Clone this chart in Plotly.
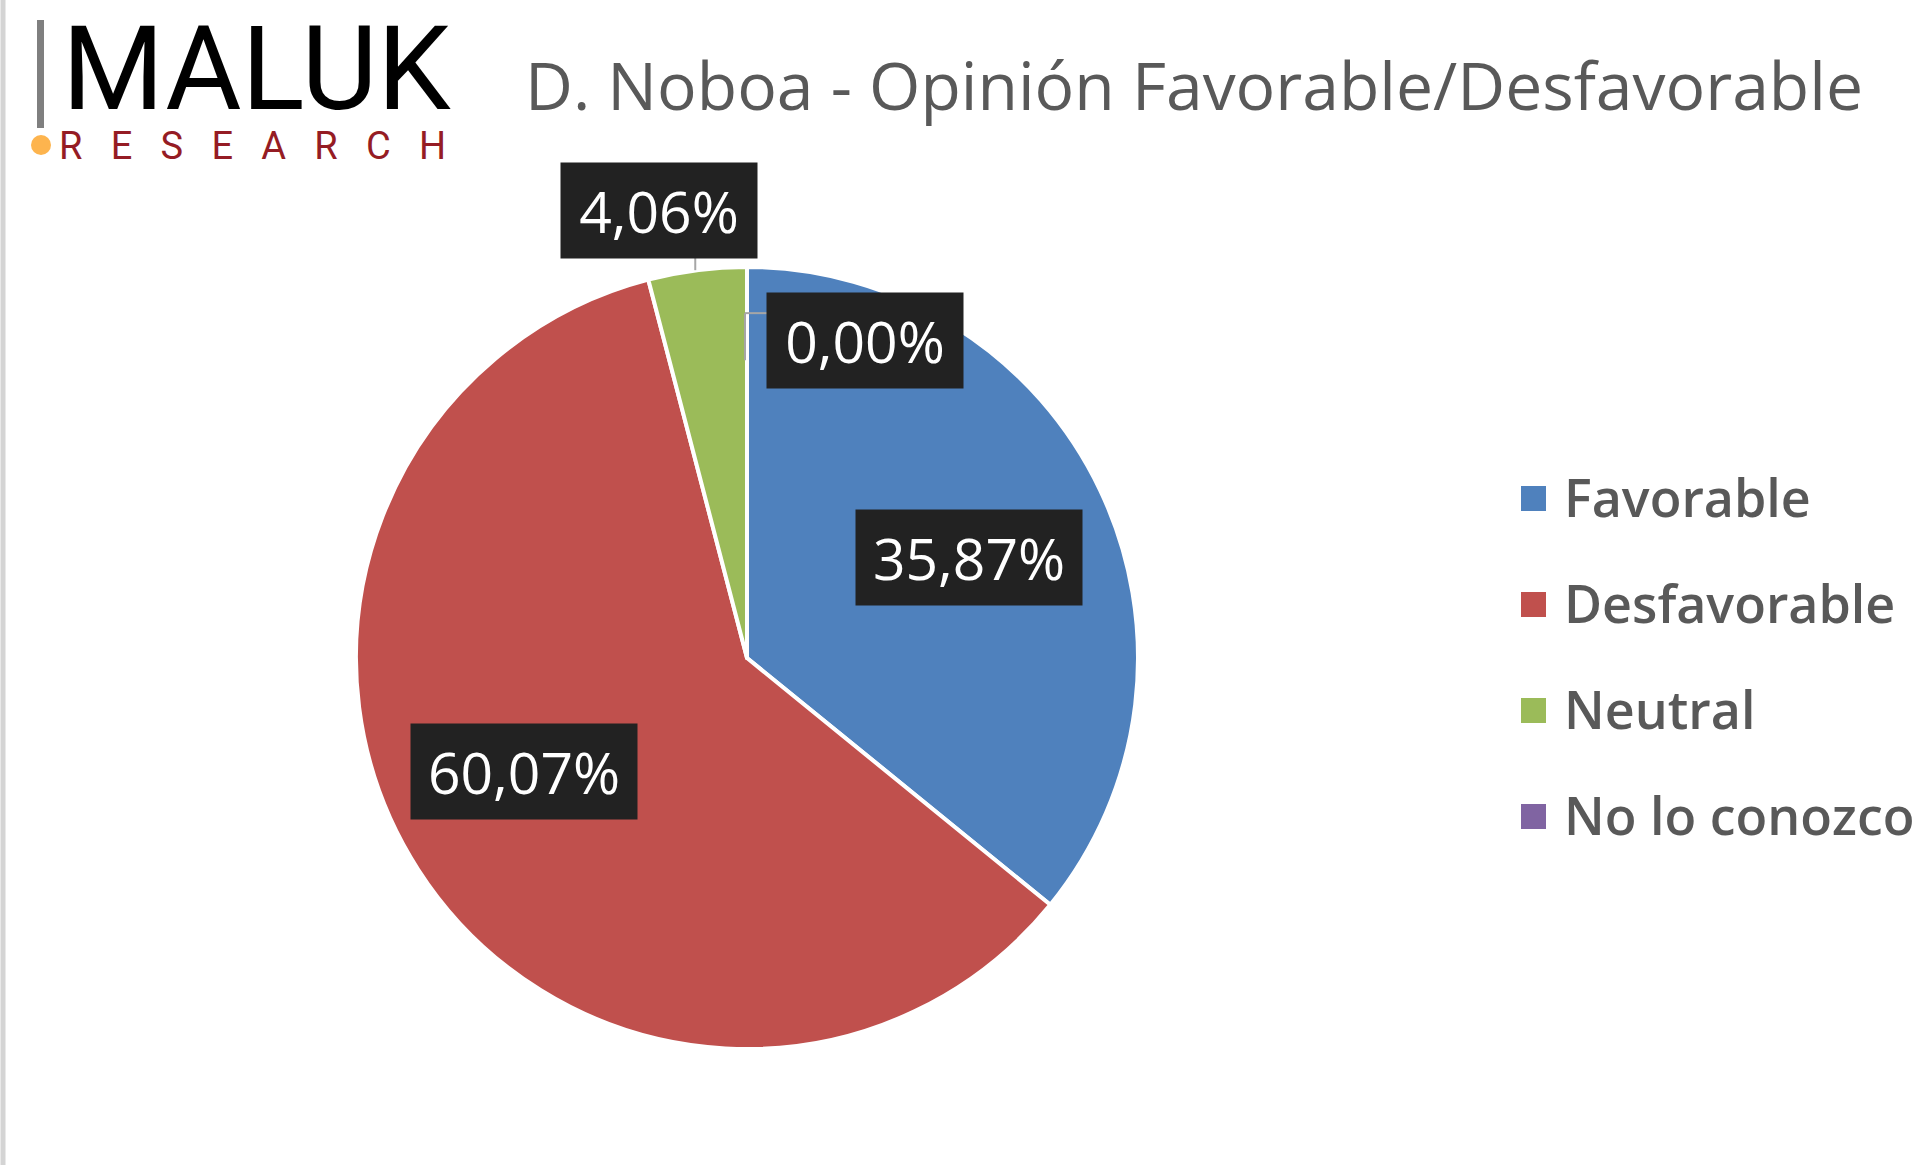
import math
import plotly.graph_objects as go

# data
categories = ["Favorable", "Desfavorable", "Neutral", "No lo conozco"]
values = [35.87, 60.07, 4.06, 0.00]
colors = ["#4F81BD", "#C0504D", "#9BBB59", "#8064A2"]
title = "D. Noboa - Opinión Favorable/Desfavorable"

W, H = 1929, 1165
# pie centre and radius in pixels
cx, cy, rad = 747, 658, 391


def px(x):
    return x / W


def py(y):
    return 1 - y / H


def fmt(v):
    return f"{v:.2f}".replace(".", ",") + "%"


def leader(x0, y0, x1, y1):
    fig.add_shape(type="line", xref="paper", yref="paper",
                  x0=px(x0), x1=px(x1), y0=py(y0), y1=py(y1),
                  line=dict(color="#A6A6A6", width=2))


fig = go.Figure()
fig.add_trace(
    go.Pie(
        labels=categories,
        values=values,
        sort=False,
        direction="clockwise",
        rotation=0,
        marker=dict(colors=colors, line=dict(color="white", width=4)),
        textinfo="none",
        hoverinfo="label+percent",
        showlegend=False,
        domain=dict(x=[px(cx - rad), px(cx + rad)], y=[py(cy + rad), py(cy - rad)]),
    )
)

# data labels: black boxes, small slices sit outside with a leader line
box_font = dict(family="Open Sans", size=57, color="white")
# radius fraction of the anchor point, then box offset in px
outside = {"Neutral": (1.0, -38, -60), "No lo conozco": (0.882, 118, 27)}
# excel nudges the inside labels a little off the mid angle
nudge = {"Favorable": (0, 5), "Desfavorable": (-16, -20)}
total = sum(values)
cum = 0
for name, v in zip(categories, values):
    txt = fmt(v)
    bw = 226 if len(txt) > 5 else 196
    bh = 95
    ang = math.radians((cum + v / 2) / total * 360)
    if name in outside:
        frac, ox, oy = outside[name]
        x = cx + frac * rad * math.sin(ang)
        y = cy - frac * rad * math.cos(ang)
        bx, by = x + ox, y + oy
        if v == 0:
            # elbow: across to the box, down along the slice edge
            leader(x - 2, y, bx - bw / 2, y)
            leader(x - 2, y, x - 2, y + 47)
        else:
            leader(x - 2, y, x - 2, by + bh / 2)
    else:
        dx, dy = nudge.get(name, (0, 0))
        bx = cx + 0.63 * rad * math.sin(ang) + dx
        by = cy - 0.63 * rad * math.cos(ang) + dy
    fig.add_annotation(
        x=px(bx), y=py(by), xref="paper", yref="paper",
        xanchor="center", yanchor="middle",
        text=txt, font=box_font, bgcolor="#222222", borderpad=0,
        width=bw, height=bh,
        showarrow=False,
    )
    cum += v

# title
fig.add_annotation(
    x=px(523), y=py(84), xref="paper", yref="paper", xanchor="left", yanchor="middle",
    text=title, showarrow=False,
    font=dict(family="Open Sans", size=66, color="#595959"),
)

# legend drawn by hand so the squares can be as big as in the original
for i, (name, c) in enumerate(zip(categories, colors)):
    yy = 498 + i * 106
    fig.add_shape(type="rect", xref="paper", yref="paper",
                  x0=px(1521), x1=px(1546), y0=py(yy - 12), y1=py(yy + 13),
                  fillcolor=c, line=dict(width=0))
    fig.add_annotation(
        x=px(1562), y=py(yy - 2), xref="paper", yref="paper", xanchor="left", yanchor="middle",
        text=name, showarrow=False,
        font=dict(family="Open Sans", size=52, color="#595959", weight=600),
    )

# logo
fig.add_shape(type="rect", xref="paper", yref="paper",
              x0=px(37), x1=px(44), y0=py(128), y1=py(20),
              fillcolor="#7F7F7F", line=dict(width=0))
fig.add_shape(type="circle", xref="paper", yref="paper",
              x0=px(31), x1=px(51), y0=py(155), y1=py(135),
              fillcolor="#FDB44E", line=dict(width=0))
fig.add_annotation(
    x=px(60), y=py(69), xref="paper", yref="paper", xanchor="left", yanchor="middle",
    text="MALUK", showarrow=False,
    font=dict(family="Roboto", size=117, color="black"),
)
fig.add_annotation(
    x=px(252), y=py(146), xref="paper", yref="paper", xanchor="center", yanchor="middle",
    text="\u00a0\u00a0\u00a0".join("RESEARCH"), showarrow=False,
    font=dict(family="Roboto", size=38, color="#951C24"),
)

# grey sheet border on the left
fig.add_shape(type="line", xref="paper", yref="paper",
              x0=px(3), x1=px(3), y0=0, y1=1,
              line=dict(color="#D4D4D4", width=5))

fig.update_layout(
    width=W,
    height=H,
    margin=dict(l=0, r=0, t=0, b=0),
    paper_bgcolor="white",
    plot_bgcolor="white",
)

# drop the browser's default body margin so the figure sits at 0,0
fig.write_html(
    "out.html",
    config={"displayModeBar": False},
    post_script="document.body.style.margin='0';",
)
